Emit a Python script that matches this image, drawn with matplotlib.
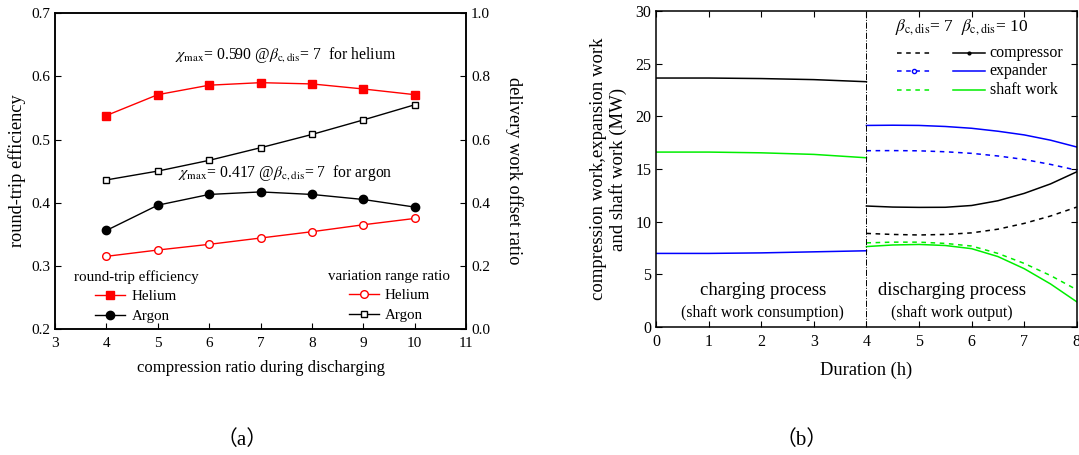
import matplotlib
matplotlib.use('Agg')
from matplotlib import pyplot as plt
from matplotlib.lines import Line2D

plt.rcParams['font.family'] = ['Liberation Serif', 'DejaVu Serif']
plt.rcParams['mathtext.fontset'] = 'stix'
plt.rcParams['font.size'] = 10.5

# ---- (a) data ----
ratio = [4, 5, 6, 7, 8, 9, 10]
eff_helium = [0.538, 0.571, 0.586, 0.590, 0.588, 0.580, 0.571]
eff_argon = [0.356, 0.396, 0.413, 0.417, 0.413, 0.405, 0.393]
var_helium = [0.230, 0.250, 0.268, 0.288, 0.308, 0.330, 0.350]
var_argon = [0.472, 0.500, 0.534, 0.574, 0.616, 0.662, 0.710]

# ---- (b) data ----
t_chg = [0, 1, 2, 3, 4]
chg_comp = [23.65, 23.65, 23.6, 23.5, 23.3]
chg_shaft = [16.62, 16.62, 16.55, 16.4, 16.08]
chg_exp = [7.0, 7.0, 7.05, 7.15, 7.25]

t_dis = [4, 4.5, 5, 5.5, 6, 6.5, 7, 7.5, 8]
comp_10 = [11.5, 11.4, 11.37, 11.38, 11.55, 12.0, 12.7, 13.6, 14.75]
comp_7 = [8.9, 8.8, 8.75, 8.8, 8.95, 9.3, 9.85, 10.55, 11.4]
exp_10 = [19.15, 19.17, 19.15, 19.05, 18.88, 18.6, 18.25, 17.75, 17.1]
exp_7 = [16.75, 16.76, 16.74, 16.65, 16.5, 16.25, 15.92, 15.45, 14.9]
shaft_10 = [7.65, 7.8, 7.85, 7.75, 7.45, 6.7, 5.55, 4.1, 2.4]
shaft_7 = [8.0, 8.07, 8.07, 7.95, 7.7, 7.0, 6.05, 4.9, 3.55]

GREEN = '#00ee00'
fig = plt.figure(figsize=(10.79, 4.55), dpi=100)

# ================= (a) =================
ax = fig.add_axes([0.051, 0.277, 0.381, 0.694])
ax2 = ax.twinx()
h1, = ax.plot(ratio, eff_helium, color='red', lw=1, marker='s', ms=5.5, label='Helium')
h2, = ax.plot(ratio, eff_argon, color='black', lw=1, marker='o', ms=6, label='Argon')
h3, = ax2.plot(ratio, var_helium, color='red', lw=1, marker='o', ms=5.5,
               mfc='white', mec='red', label='Helium')
h4, = ax2.plot(ratio, var_argon, color='black', lw=1, marker='s', ms=5,
               mfc='white', mec='black', label='Argon')
ax.set_xlim(3, 11)
ax.set_ylim(0.2, 0.7)
ax2.set_ylim(0, 1.0)
ax.set_xticks(range(3, 12))
ax.set_yticks([0.2, 0.3, 0.4, 0.5, 0.6, 0.7])
ax2.set_yticks([0.0, 0.2, 0.4, 0.6, 0.8, 1.0])
ax.set_yticklabels(['0.2', '0.3', '0.4', '0.5', '0.6', '0.7'])
ax2.set_yticklabels(['0.0', '0.2', '0.4', '0.6', '0.8', '1.0'])
ax.tick_params(direction='in', length=4, labelsize=11)
ax.tick_params(axis='x', pad=6)
ax2.tick_params(direction='in', length=4, labelsize=11)
ax.set_xlabel('compression ratio during discharging', fontsize=12, labelpad=7)
ax.set_ylabel('round-trip efficiency', fontsize=13.2)
ax2.set_ylabel('delivery work offset ratio', fontsize=13.2, rotation=270, labelpad=24)
for a in (ax, ax2):
    for s in a.spines.values():
        s.set_linewidth(1.1)

ax.text(7.48, 0.633, r'$\chi_{\rm max}$= 0.590 @$\beta_{\rm c,dis}$= 7  for helium',
        ha='center', va='center', fontsize=11.3)
ax.text(7.48, 0.447, r'$\chi_{\rm max}$= 0.417 @$\beta_{\rm c,dis}$= 7  for argon',
        ha='center', va='center', fontsize=11.3)

ax.legend(handles=[h1, h2], title='round-trip efficiency', frameon=False,
          loc='upper center', bbox_to_anchor=(0.197, 0.22), fontsize=10.8,
          title_fontsize=10.8, handlelength=2.0, handletextpad=0.4,
          labelspacing=0.4, borderpad=0.2)
ax2.legend(handles=[h3, h4], title='variation range ratio', frameon=False,
           loc='upper center', bbox_to_anchor=(0.813, 0.22), fontsize=10.8,
           title_fontsize=10.8, handlelength=2.0, handletextpad=0.4,
           labelspacing=0.4, borderpad=0.2)

# ================= (b) =================
bx = fig.add_axes([0.608, 0.281, 0.390, 0.6945])
bx.plot(t_chg, chg_comp, color='black', lw=1.1)
bx.plot(t_chg, chg_shaft, color=GREEN, lw=1.1)
bx.plot(t_chg, chg_exp, color='blue', lw=1.1)
bx.plot(t_dis, comp_10, color='black', lw=1.1)
bx.plot(t_dis, comp_7, color='black', lw=1.1, ls=(0, (3, 3)))
bx.plot(t_dis, exp_10, color='blue', lw=1.1)
bx.plot(t_dis, exp_7, color='blue', lw=1.1, ls=(0, (3, 3)))
bx.plot(t_dis, shaft_10, color=GREEN, lw=1.1)
bx.plot(t_dis, shaft_7, color=GREEN, lw=1.1, ls=(0, (3, 3)))
bx.axvline(4, color='black', lw=0.7, ls='-.')
bx.set_xlim(0, 8)
bx.set_ylim(0, 30)
bx.set_xticks(range(0, 9))
bx.set_yticks(range(0, 31, 5))
bx.tick_params(direction='in', length=4, labelsize=11.5, top=True, right=True)
bx.tick_params(axis='x', pad=5)
bx.set_xlabel('Duration (h)', fontsize=13.3, labelpad=8)
bx.set_ylabel('compression work,expansion work\nand shaft work (MW)', fontsize=13.5,
              linespacing=1.15, labelpad=6)
for s in bx.spines.values():
    s.set_linewidth(1.1)

bx.text(2.03, 3.5, 'charging process', ha='center', va='center', fontsize=13.5)
bx.text(2.03, 1.36, '(shaft work consumption)', ha='center', va='center', fontsize=11.3)
bx.text(5.62, 3.5, 'discharging process', ha='center', va='center', fontsize=13.5)
bx.text(5.62, 1.36, '(shaft work output)', ha='center', va='center', fontsize=11.3)

# legend of (b), drawn in axes coordinates
tr = bx.transAxes
bx.text(0.568, 0.949, r'$\beta_{\rm c,dis}$= 7  $\beta_{\rm c,dis}$= 10', transform=tr,
        ha='left', va='center', fontsize=12.5)
rows = [('compressor', 'black', None, '.'), ('expander', 'blue', 'o', None),
        ('shaft work', GREEN, None, None)]
ys = [0.867, 0.810, 0.750]
for (lab, col, mk_d, mk_s), yy in zip(rows, ys):
    bx.add_line(Line2D([0.572, 0.656], [yy, yy], transform=tr, color=col, lw=1.1,
                       ls=(0, (3, 3))))
    if mk_d:
        bx.add_line(Line2D([0.614], [yy], transform=tr, color=col, marker=mk_d, ms=3,
                           mfc='white', lw=0))
    bx.add_line(Line2D([0.705, 0.781], [yy, yy], transform=tr, color=col, lw=1.1))
    if mk_s:
        bx.add_line(Line2D([0.743], [yy], transform=tr, color=col, marker=mk_s, ms=4, lw=0))
    bx.text(0.793, yy, lab, transform=tr, ha='left', va='center', fontsize=11.5)

# captions
fig.text(242 / 1079, 1 - 440 / 455, '（a）', ha='center', va='center', fontsize=15,
         family=['Liberation Serif', 'Noto Sans CJK SC'])
fig.text(802 / 1079, 1 - 440 / 455, '（b）', ha='center', va='center', fontsize=15,
         family=['Liberation Serif', 'Noto Sans CJK SC'])

fig.savefig('out.png', dpi=100)
